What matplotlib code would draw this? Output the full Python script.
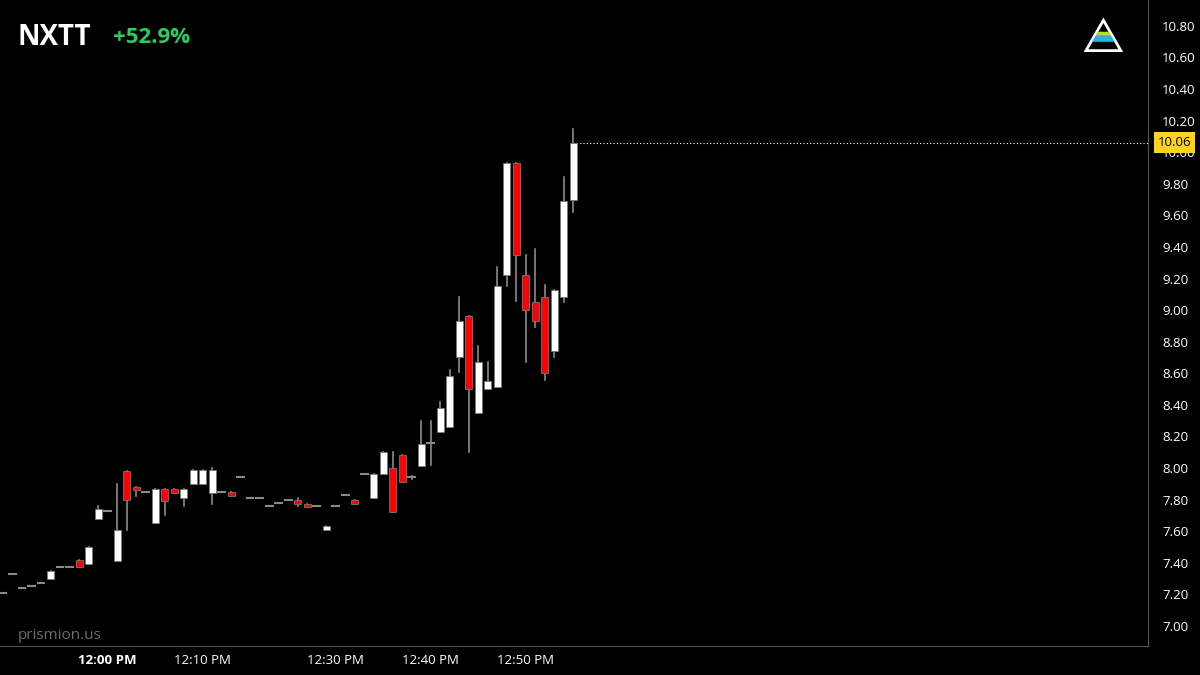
import matplotlib
matplotlib.use('Agg')
import matplotlib.pyplot as plt
from matplotlib.patches import Polygon

plt.rcParams['font.family'] = ['Open Sans', 'DejaVu Sans']

# OHLC por vela de 1 minuto
opens = [7.21, 7.33, 7.24, 7.25, 7.27, 7.30, 7.37, 7.37, 7.42, 7.39,
         7.68, 7.73, 7.41, 7.98, 7.88, 7.85, 7.65, 7.87, 7.87, 7.81,
         7.90, 7.90, 7.84, 7.85, 7.85, 7.94, 7.81, 7.81, 7.76, 7.78,
         7.80, 7.80, 7.77, 7.76, 7.61, 7.76, 7.83, 7.80, 7.96, 7.81,
         7.96, 8.00, 8.08, 7.94, 8.01, 8.16, 8.23, 8.26, 8.70, 8.96,
         8.35, 8.50, 8.51, 9.22, 9.93, 9.22, 9.05, 9.08, 8.74, 9.08, 9.70]
highs = [7.21, 7.33, 7.24, 7.25, 7.27, 7.35, 7.37, 7.37, 7.42, 7.50,
         7.76, 7.73, 7.90, 7.98, 7.88, 7.85, 7.87, 7.87, 7.87, 7.87,
         7.99, 7.99, 8.00, 7.85, 7.85, 7.94, 7.81, 7.81, 7.76, 7.78,
         7.80, 7.81, 7.77, 7.76, 7.63, 7.76, 7.83, 7.80, 7.96, 7.96,
         8.10, 8.10, 8.08, 7.95, 8.30, 8.30, 8.42, 8.62, 9.08, 8.96,
         8.77, 8.67, 9.27, 9.93, 9.93, 9.35, 9.39, 9.16, 9.13, 9.84, 10.15]
lows = [7.21, 7.33, 7.24, 7.25, 7.27, 7.30, 7.37, 7.37, 7.37, 7.39,
        7.68, 7.73, 7.41, 7.61, 7.82, 7.85, 7.65, 7.70, 7.84, 7.76,
        7.90, 7.90, 7.77, 7.85, 7.82, 7.94, 7.81, 7.81, 7.76, 7.78,
        7.80, 7.76, 7.75, 7.76, 7.61, 7.76, 7.83, 7.77, 7.96, 7.81,
        7.96, 7.72, 7.91, 7.93, 8.01, 8.02, 8.23, 8.26, 8.61, 8.10,
        8.35, 8.50, 8.51, 9.15, 9.06, 8.67, 8.89, 8.56, 8.70, 9.05, 9.62]
closes = [7.21, 7.33, 7.24, 7.25, 7.27, 7.35, 7.37, 7.37, 7.37, 7.50,
          7.74, 7.73, 7.61, 7.80, 7.86, 7.85, 7.87, 7.79, 7.84, 7.87,
          7.99, 7.99, 7.99, 7.85, 7.82, 7.94, 7.81, 7.81, 7.76, 7.78,
          7.80, 7.77, 7.75, 7.76, 7.63, 7.76, 7.83, 7.77, 7.96, 7.96,
          8.10, 7.72, 7.91, 7.94, 8.15, 8.16, 8.38, 8.58, 8.93, 8.50,
          8.67, 8.55, 9.15, 9.93, 9.35, 9.00, 8.93, 8.60, 9.13, 9.69, 10.06]

tick_pos = [11, 21, 35, 45, 55]
tick_labels = ['12:00 PM', '12:10 PM', '12:30 PM', '12:40 PM', '12:50 PM']
y_ticks = [7.0 + 0.2 * i for i in range(20)]
last_price = 10.06

fig = plt.figure(figsize=(12, 6.75), dpi=100, facecolor='black')
ax = fig.add_axes([0, 0.043, 0.957, 0.957], facecolor='black')

for i in range(len(opens)):
    o, h, l, c = opens[i], highs[i], lows[i], closes[i]
    color = 'white' if c >= o else '#ff0000'
    ax.plot([i, i], [l, h], color='#8a8a8a', lw=1.2, zorder=1)
    alto = abs(c - o)
    if alto < 0.008:
        ax.plot([i - 0.35, i + 0.35], [o, o], color='#8a8a8a', lw=1.5, zorder=2)
    else:
        ax.bar(i, alto, bottom=min(o, c), width=0.72, color=color,
               edgecolor='#777777', linewidth=0.6, zorder=2)

ax.set_xlim(-0.32, 120.5)
ax.set_ylim(6.873, 10.964)

# linea del ultimo precio
ax.plot([len(opens) - 1, 121], [last_price, last_price], color='white', lw=0.8,
        ls=(0, (1, 2)), zorder=0)

ax.yaxis.tick_right()
ax.set_yticks(y_ticks)
ax.set_yticklabels([f'{v:.2f}' for v in y_ticks], color='white', fontsize=9.5)
ax.tick_params(axis='y', length=0, pad=10)
ax.set_xticks(tick_pos)
ax.set_xticklabels(tick_labels, color='white', fontsize=9.5)
ax.get_xticklabels()[0].set_fontweight('bold')
ax.tick_params(axis='x', length=0, pad=6)
for s in ['top', 'left']:
    ax.spines[s].set_visible(False)
ax.spines['right'].set_color('#555555')
ax.spines['bottom'].set_color('#555555')

ax.text(1.008, last_price, f'{last_price:.2f}', transform=ax.get_yaxis_transform(),
        ha='left', va='center', fontsize=9.5, color='black',
        bbox=dict(boxstyle='square,pad=0.3', fc='#ffd21f', ec='none'))

fig.text(0.015, 0.945, 'NXTT', color='white', fontsize=20, fontweight='bold', va='center')
fig.text(0.094, 0.945, '+52.9%', color='#2ecc5f', fontsize=16, fontweight='bold', va='center')
fig.text(0.015, 0.058, 'prismion.us', color='#6b6b6b', fontsize=11, va='center')

# logo triangular
tri = Polygon([[0.905, 0.925], [0.934, 0.925], [0.9195, 0.97]], closed=True,
              fill=False, ec='white', lw=2, transform=fig.transFigure)
fig.patches.append(tri)
fig.patches.append(Polygon([[0.910, 0.938], [0.929, 0.938], [0.926, 0.947], [0.913, 0.947]],
                           closed=True, fc='#2bb3e8', ec='none', transform=fig.transFigure))
fig.patches.append(Polygon([[0.913, 0.947], [0.926, 0.947], [0.9235, 0.953], [0.9155, 0.953]],
                           closed=True, fc='#b8e02a', ec='none', transform=fig.transFigure))

fig.savefig('out.png', dpi=100, facecolor='black')
